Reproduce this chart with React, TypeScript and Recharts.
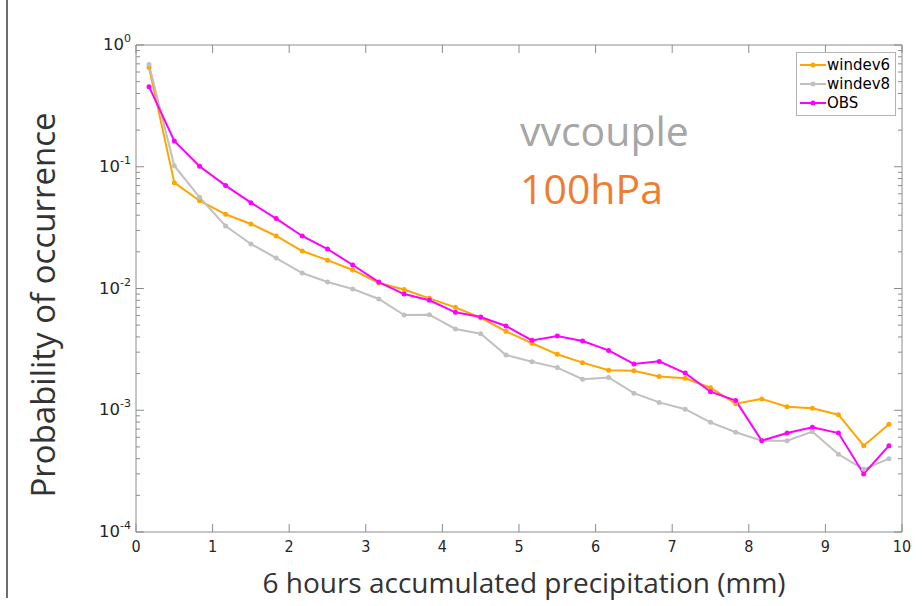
import { LineChart, Line, XAxis, YAxis, Legend } from "recharts";

// precipitation bin centres (mm)
const precip = [
  0.17, 0.5, 0.83, 1.17, 1.5, 1.83, 2.17, 2.5, 2.83, 3.17,
  3.5, 3.83, 4.17, 4.5, 4.83, 5.17, 5.5, 5.83, 6.17, 6.5,
  6.83, 7.17, 7.5, 7.83, 8.17, 8.5, 8.83, 9.17, 9.5, 9.83,
];

const windev6 = [
  0.656, 0.074, 0.0526, 0.0407, 0.0339, 0.027, 0.0203, 0.0171, 0.0142, 0.0111,
  0.0098, 0.0083, 0.007, 0.00575, 0.00445, 0.00355, 0.00288, 0.00246, 0.00213, 0.00211,
  0.00189, 0.00183, 0.00153, 0.00113, 0.00124, 0.00107, 0.00104, 0.00092, 0.000512, 0.000766,
];

const windev8 = [
  0.69, 0.102, 0.0561, 0.0326, 0.0232, 0.0178, 0.0134, 0.0113, 0.0099, 0.0082,
  0.00606, 0.0061, 0.00465, 0.00425, 0.00284, 0.0025, 0.00224, 0.0018, 0.00186, 0.00138,
  0.00116, 0.00102, 0.000796, 0.00066, 0.000562, 0.000562, 0.000667, 0.000435, 0.000327, 0.0004,
];

const obs = [
  0.455, 0.163, 0.101, 0.07, 0.0507, 0.0375, 0.027, 0.0211, 0.0156, 0.0113,
  0.009, 0.008, 0.00637, 0.00584, 0.00492, 0.00375, 0.00407, 0.0037, 0.0031, 0.0024,
  0.00252, 0.00202, 0.00142, 0.0012, 0.000562, 0.00065, 0.000724, 0.00065, 0.0003, 0.000512,
];

const xTicks = [0, 1, 2, 3, 4, 5, 6, 7, 8, 9, 10];
const yExponents = [-4, -3, -2, -1, 0];
const minorMultipliers = [2, 3, 4, 5, 6, 7, 8, 9];

const seriesList = [
  { key: "windev6", name: "windev6", color: "#FFA500" },
  { key: "windev8", name: "windev8", color: "#C0C0C0" },
  { key: "obs", name: "OBS", color: "#FF00FF" },
];

const data = precip.map((p, i) => ({
  precip: p,
  windev6: windev6[i],
  windev8: windev8[i],
  obs: obs[i],
}));

const majorTicks = yExponents.map((e) => Math.pow(10, e));
const yTicks = [
  ...majorTicks,
  ...yExponents.slice(0, -1).flatMap((e) => minorMultipliers.map((m) => m * Math.pow(10, e))),
];

const axisColor = "#8c8c8c";
const labelColor = "#262626";
const tickFont = "'DejaVu Sans', sans-serif";

function isMajor(v: number) {
  const l = Math.log10(v);
  return Math.abs(l - Math.round(l)) < 1e-6;
}

function LeftTick(props: any) {
  const { x, y, payload } = props;
  const v = payload.value as number;
  const major = isMajor(v);
  const exp = Math.round(Math.log10(v));
  return (
    <g>
      <line x1={x} x2={x + (major ? 8 : 4)} y1={y} y2={y} stroke={axisColor} />
      {major && (
        <text x={x - 5} y={y + 5} textAnchor="end" fill={labelColor} fontFamily={tickFont} fontSize={16.5}>
          10<tspan dy={-8} fontSize={11}>{exp}</tspan>
        </text>
      )}
    </g>
  );
}

function RightTick(props: any) {
  const { x, y, payload } = props;
  const major = isMajor(payload.value);
  return <line x1={x} x2={x - (major ? 8 : 4)} y1={y} y2={y} stroke={axisColor} />;
}

function BottomTick(props: any) {
  const { x, y, payload } = props;
  return (
    <g>
      <line x1={x} x2={x} y1={y} y2={y - 8} stroke={axisColor} />
      <text x={x} y={y + 20} textAnchor="middle" fill={labelColor} fontFamily="'DejaVu Sans Condensed', 'DejaVu Sans', sans-serif" fontSize={16}>
        {payload.value}
      </text>
    </g>
  );
}

function TopTick(props: any) {
  const { x, y } = props;
  return <line x1={x} x2={x} y1={y} y2={y + 8} stroke={axisColor} />;
}

function LegendBox() {
  return (
    <div
      style={{
        border: "1px solid #b4b4b4",
        background: "#fff",
        padding: "2px 5px 3px 3px",
        fontFamily: tickFont,
        fontSize: 15,
        color: "#000",
      }}
    >
      {seriesList.map((s) => (
        <div key={s.key} style={{ display: "flex", alignItems: "center", height: 19 }}>
          <svg width={26} height={10} style={{ marginRight: 1 }}>
            <line x1={0} x2={26} y1={5} y2={5} stroke={s.color} strokeWidth={2} />
            <circle cx={13} cy={5} r={2.5} fill={s.color} />
          </svg>
          <span>{s.name}</span>
        </div>
      ))}
    </div>
  );
}

export default function App() {
  return (
    <div style={{ position: "absolute", left: 0, top: 0, width: 924, height: 606, background: "#fff" }}>
      <div style={{ position: "absolute", left: 6, top: 0, width: 2, height: 598, background: "#6e6e6e" }} />
      <LineChart
        width={924}
        height={606}
        data={data}
        margin={{ top: 44, right: 21, bottom: 44, left: 0 }}
      >
        <XAxis
          xAxisId="bottom"
          dataKey="precip"
          type="number"
          domain={[0, 10]}
          ticks={xTicks}
          height={30}
          stroke={axisColor}
          tickSize={0}
          tickMargin={0}
          tickLine={false}
          tick={<BottomTick />}
          interval={0}
        />
        <XAxis
          xAxisId="top"
          orientation="top"
          dataKey="precip"
          type="number"
          domain={[0, 10]}
          ticks={xTicks}
          height={1}
          stroke={axisColor}
          tickSize={0}
          tickMargin={0}
          tickLine={false}
          tick={<TopTick />}
          interval={0}
        />
        <YAxis
          yAxisId="left"
          scale="log"
          type="number"
          domain={[1e-4, 1]}
          allowDataOverflow
          ticks={yTicks}
          width={136}
          stroke={axisColor}
          tickSize={0}
          tickMargin={0}
          tickLine={false}
          tick={<LeftTick />}
          interval={0}
        />
        <YAxis
          yAxisId="right"
          orientation="right"
          scale="log"
          type="number"
          domain={[1e-4, 1]}
          allowDataOverflow
          ticks={yTicks}
          width={1}
          stroke={axisColor}
          tickSize={0}
          tickMargin={0}
          tickLine={false}
          tick={<RightTick />}
          interval={0}
        />
        <Legend
          layout="vertical"
          align="center"
          verticalAlign="middle"
          wrapperStyle={{ left: 796, top: 52, width: "auto" }}
          content={<LegendBox />}
        />
        {seriesList.map((s) => (
          <Line
            key={s.key}
            xAxisId="bottom"
            yAxisId="left"
            dataKey={s.key}
            name={s.name}
            stroke={s.color}
            strokeWidth={2}
            dot={{ r: 2.5, fill: s.color, stroke: s.color, strokeWidth: 0 }}
            isAnimationActive={false}
          />
        ))}
      </LineChart>
      <div
        style={{
          position: "absolute",
          left: 520,
          top: 104,
          fontFamily: "'Open Sans', sans-serif",
          fontSize: 41,
          color: "#a6a6a6",
          lineHeight: "52px",
        }}
      >
        vvcouple
      </div>
      <div
        style={{
          position: "absolute",
          left: 520,
          top: 162,
          fontFamily: "'Open Sans', sans-serif",
          fontSize: 41,
          color: "#ed7d31",
          lineHeight: "52px",
        }}
      >
        100hPa
      </div>
      <div
        style={{
          position: "absolute",
          left: 42,
          top: 305,
          transform: "translate(-50%, -50%) rotate(-90deg)",
          whiteSpace: "nowrap",
          fontFamily: "'Open Sans', sans-serif",
          fontSize: 33,
          color: "#333",
        }}
      >
        Probability of occurrence
      </div>
      <div
        style={{
          position: "absolute",
          left: 524,
          top: 582,
          transform: "translate(-50%, -50%)",
          whiteSpace: "nowrap",
          fontFamily: "'Open Sans', sans-serif",
          fontSize: 28,
          color: "#333",
        }}
      >
        6 hours accumulated precipitation (mm)
      </div>
    </div>
  );
}
